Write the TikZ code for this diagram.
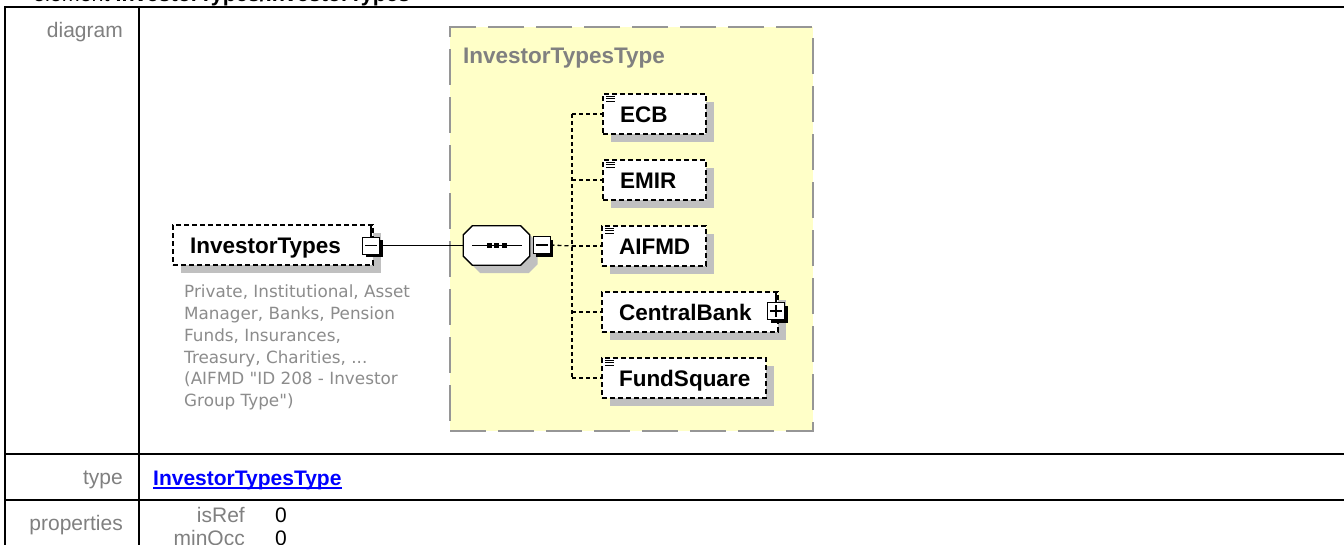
\documentclass[tikz,border=0pt]{standalone}
\usepackage{fontspec}
\setmainfont{Liberation Sans}
\newfontfamily\descfont{DejaVu Sans}
\usetikzlibrary{shadows}
\definecolor{grpfill}{RGB}{255,255,200}
\definecolor{grpline}{RGB}{150,150,150}
\definecolor{lblgray}{RGB}{128,128,128}
\definecolor{descgray}{RGB}{140,140,140}
\definecolor{shd}{RGB}{192,192,192}
\definecolor{lnk}{RGB}{0,0,255}
\newcommand{\elemfont}{\fontsize{22.5}{26}\selectfont\bfseries}
\newcommand{\lblfont}{\fontsize{21}{24}\selectfont}
\newcommand{\octpath}[1]{([xshift=9pt]#1.north west) -- ([xshift=-9pt]#1.north east) -- ([yshift=-9pt]#1.north east) -- ([yshift=9pt]#1.south east) -- ([xshift=-9pt]#1.south east) -- ([xshift=9pt]#1.south west) -- ([yshift=9pt]#1.south west) -- ([yshift=-9pt]#1.north west) -- cycle}
\begin{document}
\begin{tikzpicture}[x=1pt,y=-1pt,
  tbl/.style={line width=2pt, black},
  grpbox/.style={draw=grpline, fill=grpfill, line width=2pt, dash pattern=on 36pt off 12pt, inner sep=0pt},
  elembox/.style={draw, dash pattern=on 5pt off 3pt, line width=1.4pt, fill=white, inner xsep=17pt, inner ysep=0pt,
    minimum height=40pt, text height=16pt, text depth=0pt, align=left, font=\elemfont,
    drop shadow={shadow xshift=8pt, shadow yshift=-8pt, fill=shd, opacity=1}},
  seqbox/.style={minimum width=66pt, minimum height=39pt, inner sep=0pt},
  pmbox/.style={draw, line width=1pt, fill=white, minimum size=17pt, inner sep=0pt,
    drop shadow={shadow xshift=3pt, shadow yshift=-3pt, fill=black, opacity=1}},
  solidconn/.style={line width=1.3pt, black},
  dconn/.style={line width=1.3pt, black, dash pattern=on 4pt off 3pt},
  lbl/.style={inner sep=0pt, text=lblgray, font=\lblfont},
  val/.style={inner sep=0pt, text=black, font=\lblfont},
  icon/.style={line width=0.9pt, black}
]
\useasboundingbox (0,0) rectangle (1344,544);
\clip (0,0) rectangle (1344,544);
\fill[white] (0,0) rectangle (1344,544);

% title (cut off at the top)
\node[anchor=base west, inner sep=0pt, font=\fontsize{21.5}{24}\selectfont] (title) at (33,1.5) {element \textbf{InvestorTypes/InvestorTypes}};

% table rules
\draw[tbl] (5,546) -- (5,7) -- (1346,7);
\draw[tbl] (139,7) -- (139,546);
\draw[tbl] (5,454) -- (1346,454);
\draw[tbl] (5,500) -- (1346,500);

% row labels
\node[lbl, anchor=base east] (ldiag) at (123,37) {diagram};
\node[lbl, anchor=base east] (ltype) at (123,484) {type};
\node[lbl, anchor=base east] (lprop) at (123,530) {properties};
\node[lbl, anchor=base east] (lisref) at (245,522) {isRef};
\node[val, anchor=base west] (visref) at (275,522) {0};
\node[lbl, anchor=base east] (lminocc) at (245,545) {minOcc};
\node[val, anchor=base west] (vminocc) at (275,545) {0};
\node[inner sep=0pt, anchor=base west, text=lnk, font=\fontsize{21}{24}\selectfont\bfseries] (link) at (153,485) {InvestorTypesType};
\draw[lnk, line width=1.3pt] ([yshift=-3pt]link.base west) -- ([yshift=-3pt]link.base east);

% complex type group
\node[grpbox, minimum width=363pt, minimum height=404pt] (grp) at (631.5,229) {};
\node[inner sep=0pt, anchor=base west, text=lblgray, font=\elemfont] (grptitle) at (463,63) {InvestorTypesType};

% root element
\node[elembox, text width=166pt] (it) at (273,245) {InvestorTypes};
\node[anchor=north west, inner sep=0pt, align=left, text=descgray, font=\descfont\fontsize{16.8}{21.7}\selectfont] (desc) at (184,285)
 {Private, Institutional, Asset\\Manager, Banks, Pension\\Funds, Insurances,\\Treasury, Charities, ...\\(AIFMD "ID 208 - Investor\\Group Type")};
\node[pmbox] (m1) at (371,245.5) {};
\draw[line width=1.2pt] ([xshift=3pt]m1.west) -- ([xshift=-3pt]m1.east);
\draw[solidconn] (m1.north) -- (m1.north |- it.north);

% sequence compositor
\node[seqbox] (seq) at (496.5,245.5) {};
\fill[shd, transform canvas={xshift=8pt, yshift=-8pt}] \octpath{seq};
\draw[line width=1.3pt, fill=white] \octpath{seq};
\draw[line width=1.3pt] ([xshift=9pt]seq.west) -- ([xshift=-8pt]seq.east);
\foreach \dx in {-7.5,0,7.5} \fill ([xshift=\dx pt]seq.center) +(-2.5,-2.5) rectangle +(2.5,2.5);
\node[pmbox] (m2) at (541.5,245) {};
\draw[line width=1.2pt] ([xshift=3pt]m2.west) -- ([xshift=-3pt]m2.east);
\draw[solidconn] (m1.east) -- (seq.west);

% children
\node[elembox, text width=69pt] (ecb) at (654.5,114) {ECB};
\node[elembox, text width=69pt] (emir) at (654.5,180) {EMIR};
\node[elembox, text width=70pt] (aifmd) at (654,246) {AIFMD};
\node[elembox, text width=142pt] (cb) at (690,312) {CentralBank};
\node[elembox, text width=130pt] (fund) at (684,378) {FundSquare};

\foreach \n in {ecb,emir,aifmd,fund} {
  \foreach \dy in {3,5.5,8} \draw[icon] ([xshift=3.5pt,yshift=-\dy pt]\n.north west) -- ++(9,0);
}

\node[pmbox] (p1) at (776,311) {};
\draw[line width=1.2pt] ([xshift=3pt]p1.west) -- ([xshift=-3pt]p1.east);
\draw[line width=1.2pt] ([yshift=-3pt]p1.north) -- ([yshift=3pt]p1.south);
\draw[solidconn] (p1.north) -- (p1.north |- cb.north);

\coordinate (bus) at (572,246);
\draw[dconn] (m2.east) -- (bus);
\draw[dconn] (ecb.west -| bus) -- (fund.west -| bus);
\foreach \n in {ecb,emir,aifmd,cb,fund} \draw[dconn] (\n.west -| bus) -- (\n.west);
\end{tikzpicture}
\end{document}
